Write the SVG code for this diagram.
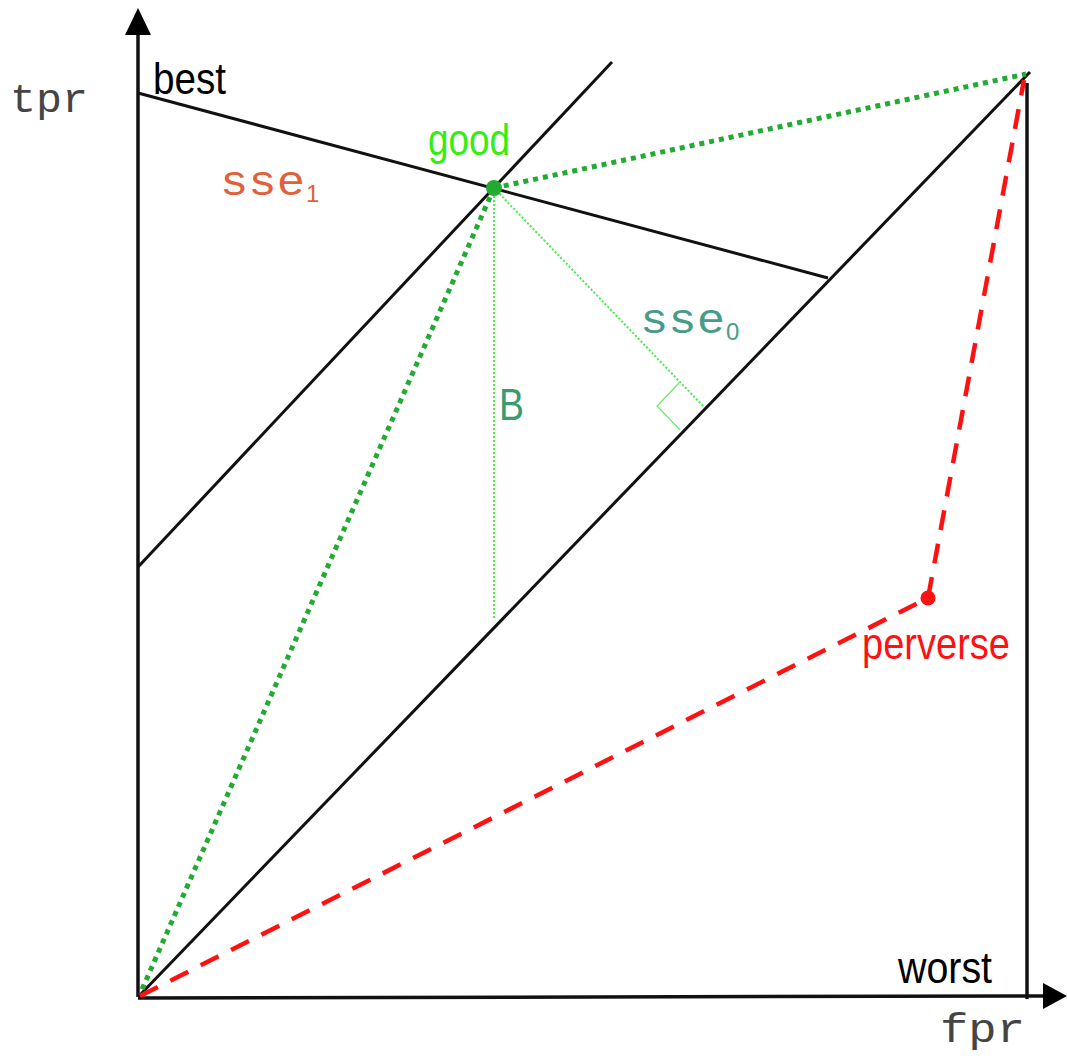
<svg xmlns="http://www.w3.org/2000/svg" width="1067" height="1056" viewBox="0 0 1067 1056">
<style>
.ax{stroke:#111;stroke-width:3.5;fill:none}
.ln{stroke:#111;stroke-width:3;fill:none}
.gd{stroke:#22aa33;stroke-width:5;stroke-dasharray:5 5;fill:none}
.gt{stroke:#44ee44;stroke-width:2;stroke-dasharray:2 2;fill:none}
.rd{stroke:#ff1111;stroke-width:4.5;stroke-dasharray:20 14;fill:none}
.sans{font-family:"Liberation Sans",Arial,sans-serif}
.mono{font-family:"Liberation Mono","Courier New",monospace}
</style>
<rect width="1067" height="1056" fill="#fff"/>
<g id="axes">
<line class="ax" x1="138" y1="997" x2="138" y2="32"/>
<polygon points="138,8 125,35 151,35" fill="#000"/>
<line class="ax" x1="138" y1="998" x2="1045" y2="996"/>
<polygon points="1067,996 1043,983 1043,1009" fill="#000"/>
<line class="ax" x1="1027" y1="83" x2="1027" y2="999"/>
</g>
<g id="connectors">
<line class="ln" x1="138" y1="93" x2="828" y2="278"/>
<line class="ln" x1="138" y1="567" x2="612" y2="62"/>
<line class="ln" x1="138" y1="997" x2="1030" y2="72"/>
<line class="gd" x1="494" y1="188" x2="1026" y2="74"/>
<line class="gd" x1="494" y1="188" x2="140" y2="994"/>
<line class="gt" x1="494" y1="188" x2="494" y2="618"/>
<line class="gt" x1="494" y1="188" x2="703" y2="406"/>
<polyline points="680,382 657,406 680,430" fill="none" stroke="#66ee66" stroke-width="1.2"/>
<polyline class="rd" points="140,996 928,598 1024,80"/>
</g>
<g id="good"><circle cx="494" cy="188" r="8" fill="#22aa33"/></g>
<g id="perverse"><circle cx="928" cy="598" r="7.5" fill="#ff1111"/></g>
<g id="labels">
<text class="mono" x="10" y="112" font-size="40" fill="#444" textLength="78" lengthAdjust="spacingAndGlyphs">tpr</text>
<text class="sans" x="153" y="94" font-size="44" fill="#000" textLength="73" lengthAdjust="spacingAndGlyphs">best</text>
<text class="sans" x="428" y="155" font-size="44" fill="#33ee11" textLength="82" lengthAdjust="spacingAndGlyphs">good</text>
<text class="mono" x="220" y="195" font-size="42" fill="#e0603a" textLength="85" lengthAdjust="spacingAndGlyphs">sse</text>
<text class="sans" x="306" y="202" font-size="24" fill="#e0603a">1</text>
<text class="mono" x="640" y="333" font-size="42" fill="#4a9a88" textLength="85" lengthAdjust="spacingAndGlyphs">sse</text>
<text class="sans" x="726" y="340" font-size="24" fill="#4a9a88">0</text>
<text class="sans" x="499" y="420" font-size="44" fill="#3a9a70" textLength="25" lengthAdjust="spacingAndGlyphs">B</text>
<text class="sans" x="862" y="659" font-size="44" fill="#ff1111" textLength="148" lengthAdjust="spacingAndGlyphs">perverse</text>
<text class="sans" x="898" y="983" font-size="44" fill="#000" textLength="94" lengthAdjust="spacingAndGlyphs">worst</text>
<text class="mono" x="940" y="1042" font-size="40" fill="#444" textLength="85" lengthAdjust="spacingAndGlyphs">fpr</text>
</g>
</svg>
